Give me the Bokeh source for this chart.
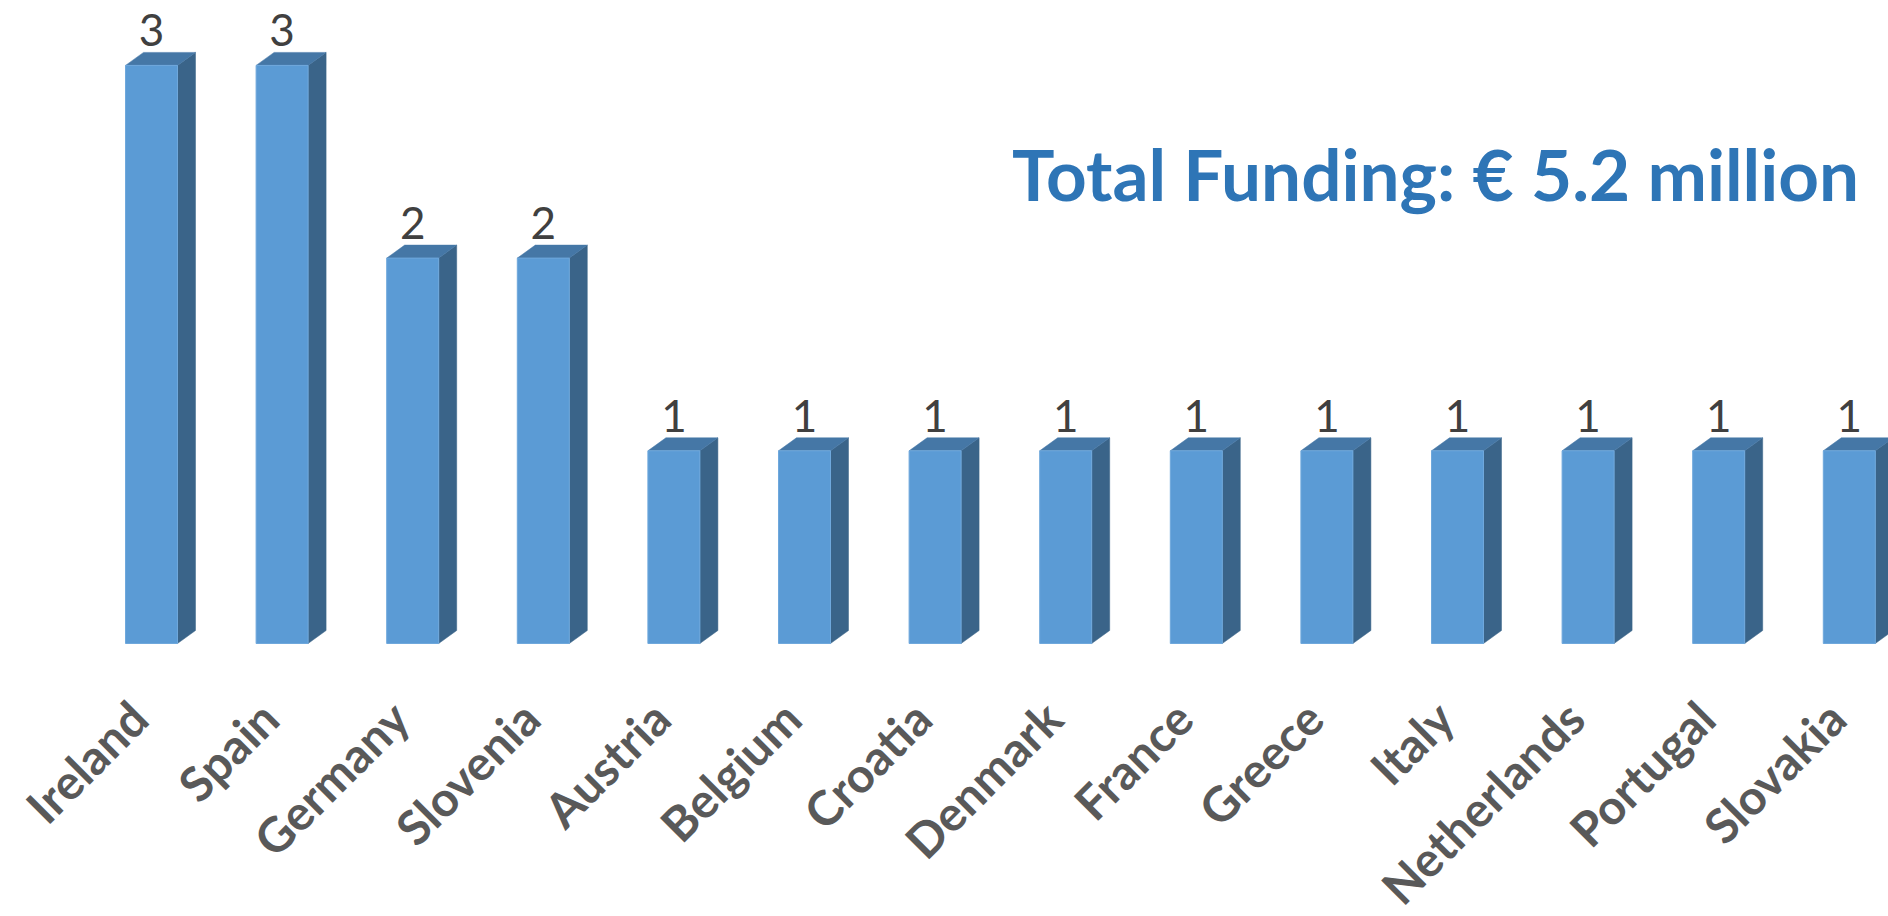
import math
from bokeh.plotting import figure
from bokeh.models import Range1d, ColumnDataSource, Label
from bokeh.core.properties import value
from bokeh.embed import file_html
from bokeh.resources import INLINE

# ---- data ----
countries = ["Ireland", "Spain", "Germany", "Slovenia", "Austria", "Belgium", "Croatia",
             "Denmark", "France", "Greece", "Italy", "Netherlands", "Portugal", "Slovakia"]
projects = [3, 3, 2, 2, 1, 1, 1, 1, 1, 1, 1, 1, 1, 1]
title_text = "Total Funding: € 5.2 million"

# ---- layout constants (pixels) ----
W, H = 1888, 916
PX_PER_CAT = 130.6
FIRST_CENTER_PX = 151.0
BASE_PX = 643.0
PX_PER_UNIT = 192.7

x_start = -FIRST_CENTER_PX / PX_PER_CAT
x_end = x_start + W / PX_PER_CAT
y_top = BASE_PX / PX_PER_UNIT
y_bottom = (BASE_PX - H) / PX_PER_UNIT

bar_w = 52.0 / PX_PER_CAT
dx = 18.0 / PX_PER_CAT
dy = 13.0 / PX_PER_UNIT

p = figure(width=W, height=H, output_backend="svg", toolbar_location=None,
           x_range=Range1d(x_start, x_end), y_range=Range1d(y_bottom, y_top),
           min_border=0)
p.axis.visible = False
p.grid.visible = False
p.outline_line_color = None
p.background_fill_color = "white"
p.border_fill_color = "white"

idx = list(range(len(countries)))
src = ColumnDataSource(dict(x=idx, v=projects, lab=[str(v) for v in projects],
                            name=countries))

side_xs, side_ys, top_xs, top_ys = [], [], [], []
for i, v in zip(idx, projects):
    r = i + bar_w / 2
    l = i - bar_w / 2
    side_xs.append([r, r + dx, r + dx, r])
    side_ys.append([0, dy, v + dy, v])
    top_xs.append([l, l + dx, r + dx, r])
    top_ys.append([v, v + dy, v + dy, v])

p.patches(side_xs, side_ys, fill_color="#3A6489", line_color="#3A6489", line_width=0.5)
p.patches(top_xs, top_ys, fill_color="#4577A6", line_color="#4577A6", line_width=0.5)
p.vbar(x="x", top="v", bottom=0, width=bar_w, source=src,
       fill_color="#5B9BD5", line_color="#6FA8DC", line_width=1)

# value labels
p.text(x="x", y="v", text="lab", source=src, y_offset=-35,
       text_align="center", text_baseline="alphabetic",
       text_font=value("Lato"), text_font_size="44px", text_color="#404040")

# category labels
p.text(x="x", y=0, text="name", source=src, x_offset=-13, y_offset=66, angle=math.pi / 4,
       text_align="right", text_baseline="alphabetic",
       text_font=value("Lato"), text_font_style="bold", text_font_size="48px",
       text_color="#595959")

# title
p.add_layout(Label(x=1435, y=H - 173, x_units="screen", y_units="screen",
                   text=title_text, text_align="center", text_baseline="alphabetic",
                   text_font="Lato", text_font_style="bold", text_font_size="71px",
                   text_color="#2E75B6"))

open("out.html", "w").write(file_html(p, INLINE))
